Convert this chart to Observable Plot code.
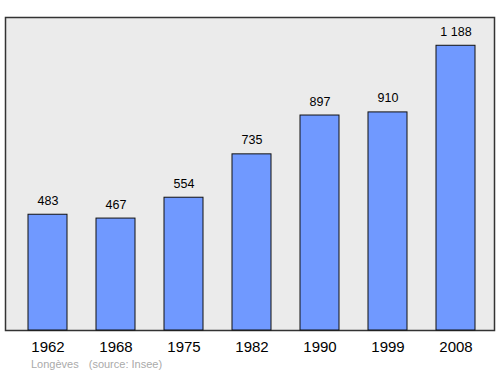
<!DOCTYPE html>
<html>
<head>
<meta charset="utf-8">
<script src="https://cdn.jsdelivr.net/npm/d3@7"></script>
<script src="https://cdn.jsdelivr.net/npm/@observablehq/plot@0.6"></script>
<style>
  html, body { margin: 0; padding: 0; background: #fff; }
  #wrap { position: relative; width: 500px; height: 374px; }
  #caption { position: absolute; left: 31px; top: 358px; font: 11px "Liberation Sans", Arial, sans-serif; color: #aaa; white-space: pre; }
  #caption span + span { margin-left: 10px; }
</style>
</head>
<body>
<div id="wrap"><div id="chart"></div><div id="caption"></div></div>
<script>
const years = ["1962", "1968", "1975", "1982", "1990", "1999", "2008"];
const population = [483, 467, 554, 735, 897, 910, 1188];
const valueLabels = ["483", "467", "554", "735", "897", "910", "1 188"];
const captionParts = ["Longèves", "(source: Insee)"];

const data = years.map((y, i) => ({year: y, pop: population[i], label: valueLabels[i]}));

const chart = Plot.plot({
  width: 500,
  height: 356,
  marginTop: 17,
  marginBottom: 26,
  marginLeft: 5,
  marginRight: 6,
  x: {domain: years, paddingInner: 0.42, paddingOuter: 0.285, align: 0.55, label: null},
  y: {domain: [0, 1306], axis: null},
  style: {fontFamily: "'Liberation Sans', Arial, sans-serif", background: "white", color: "#000"},
  marks: [
    Plot.frame({fill: "#ebebeb", stroke: "#333", strokeWidth: 1.5}),
    Plot.barY(data, {x: "year", y: "pop", fill: "#7099ff", stroke: "#111", strokeWidth: 1}),
    Plot.text(data, {x: "year", y: "pop", text: "label", dy: -14, fontSize: 12.5, fill: "#000"}),
    Plot.axisX({tickSize: 0, tickPadding: 11, fontSize: 15, label: null})
  ]
});
document.getElementById("chart").appendChild(chart);
const cap = document.getElementById("caption");
captionParts.forEach(t => { const s = document.createElement("span"); s.textContent = t; cap.appendChild(s); });
</script>
</body>
</html>
